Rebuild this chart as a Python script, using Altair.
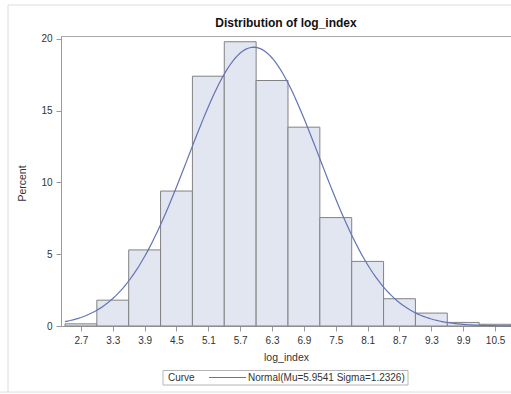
import altair as alt
import numpy as np
import pandas as pd

# Histogram of log_index: bin midpoints and percent of observations per bin
bin_centers = [2.7, 3.3, 3.9, 4.5, 5.1, 5.7, 6.3, 6.9, 7.5, 8.1, 8.7, 9.3, 9.9, 10.5]
percents = [0.15, 1.8, 5.3, 9.4, 17.4, 19.8, 17.1, 13.85, 7.55, 4.5, 1.9, 0.9, 0.25, 0.12]
BIN_WIDTH = 0.6

# Fitted normal curve parameters
MU = 5.9541
SIGMA = 1.2326
curve_label = f"Normal(Mu={MU} Sigma={SIGMA})"

FONT = "Liberation Sans"
TEXT = "#333333"
CURVE_COLOR = "#6373b4"

bars_df = pd.DataFrame({"center": bin_centers, "percent": percents})

# Normal density scaled to percent per bin
xs = np.round(np.arange(2.4, 10.8001, 0.05), 4)
ys = 100 * BIN_WIDTH * np.exp(-0.5 * ((xs - MU) / SIGMA) ** 2) / (SIGMA * np.sqrt(2 * np.pi))
curve_df = pd.DataFrame({"x": xs, "pct": ys})
legend_df = pd.DataFrame({"curve": [curve_label]})

x_scale = alt.Scale(domain=[2.325, 10.8], nice=False, zero=False)
y_scale = alt.Scale(domain=[0, 20.2], nice=False)

x_axis = alt.Axis(
    title="log_index", values=bin_centers, format=".1f", grid=False,
    labelOverlap=False, labelFlush=False, labelBound=False,
    domainColor="#9a9a9a", tickColor="#9a9a9a", tickSize=5, labelPadding=4,
    labelFontSize=10, titleFontSize=10.5, titleFontWeight="normal",
    titleY=31, titleBaseline="middle",
)
y_axis = alt.Axis(
    title="Percent", values=[0, 5, 10, 15, 20], grid=False,
    labelOverlap=False, labelFlush=False, labelBound=False,
    domainColor="#9a9a9a", tickColor="#9a9a9a", tickSize=5, labelPadding=4,
    labelFontSize=10, titleFontSize=10.5, titleFontWeight="normal",
    titleX=-39, titleY=147, titleAngle=270, titleAlign="center", titleBaseline="middle",
)

bars = alt.Chart(bars_df).transform_calculate(
    lo=f"datum.center - {BIN_WIDTH / 2}",
    hi=f"datum.center + {BIN_WIDTH / 2}",
).mark_rect(fill="#e2e6f0", stroke="#828282", strokeWidth=1).encode(
    x=alt.X("lo:Q", scale=x_scale, axis=x_axis),
    x2="hi:Q",
    y=alt.Y("percent:Q", scale=y_scale, axis=y_axis),
    y2=alt.datum(0),
)

curve = alt.Chart(curve_df).mark_line(strokeWidth=1.2, color=CURVE_COLOR).encode(
    x=alt.X("x:Q", scale=x_scale, axis=x_axis),
    y=alt.Y("pct:Q", scale=y_scale, axis=y_axis),
)

# legend box below the axis: "Curve  ——  Normal(...)"
legend_box = alt.Chart(legend_df).mark_rect(fill="white", stroke="#b5b5b5").encode(
    x=alt.value(102), x2=alt.value(347), y=alt.value(334.5), y2=alt.value(349)
)
legend_title = alt.Chart(legend_df).mark_text(
    text="Curve", align="left", baseline="middle", font=FONT, fontSize=10, color=TEXT
).encode(x=alt.value(107), y=alt.value(341.5))
legend_line = alt.Chart(legend_df).mark_rule(color=CURVE_COLOR, strokeWidth=1.2).encode(
    x=alt.value(148), x2=alt.value(185), y=alt.value(341.5)
)
legend_label = alt.Chart(legend_df).mark_text(
    align="left", baseline="middle", font=FONT, fontSize=10, color=TEXT
).encode(x=alt.value(187), y=alt.value(341.5), text="curve:N")

# light outer frame around the graph
frame_left = alt.Chart(legend_df).mark_rule(color="#dcdcdc").encode(
    x=alt.value(-53), y=alt.value(-31), y2=alt.value(356)
)
frame_top = alt.Chart(legend_df).mark_rule(color="#dcdcdc").encode(
    x=alt.value(-53), x2=alt.value(460), y=alt.value(-31)
)
frame_bottom = alt.Chart(legend_df).mark_rule(color="#dcdcdc").encode(
    x=alt.value(-61), x2=alt.value(460), y=alt.value(356)
)

chart = alt.layer(
    bars, curve, legend_box, legend_title, legend_line, legend_label,
    frame_left, frame_top, frame_bottom,
).properties(
    width=450,
    height=290,
    title=alt.Title(
        "Distribution of log_index", fontSize=12, fontWeight="bold",
        font=FONT, color="#111111", anchor="middle", frame="group",
        baseline="alphabetic", offset=0, dy=34.5,
    ),
    autosize=alt.AutoSizeParams(type="none"),
    padding={"left": 61, "top": 36, "right": 0, "bottom": 68},
).configure_view(
    stroke="#aaaaaa"
).configure_axis(
    labelFont=FONT, titleFont=FONT, labelColor=TEXT, titleColor=TEXT
)

chart.save("out.html", embed_options={"renderer": "svg", "actions": False})
